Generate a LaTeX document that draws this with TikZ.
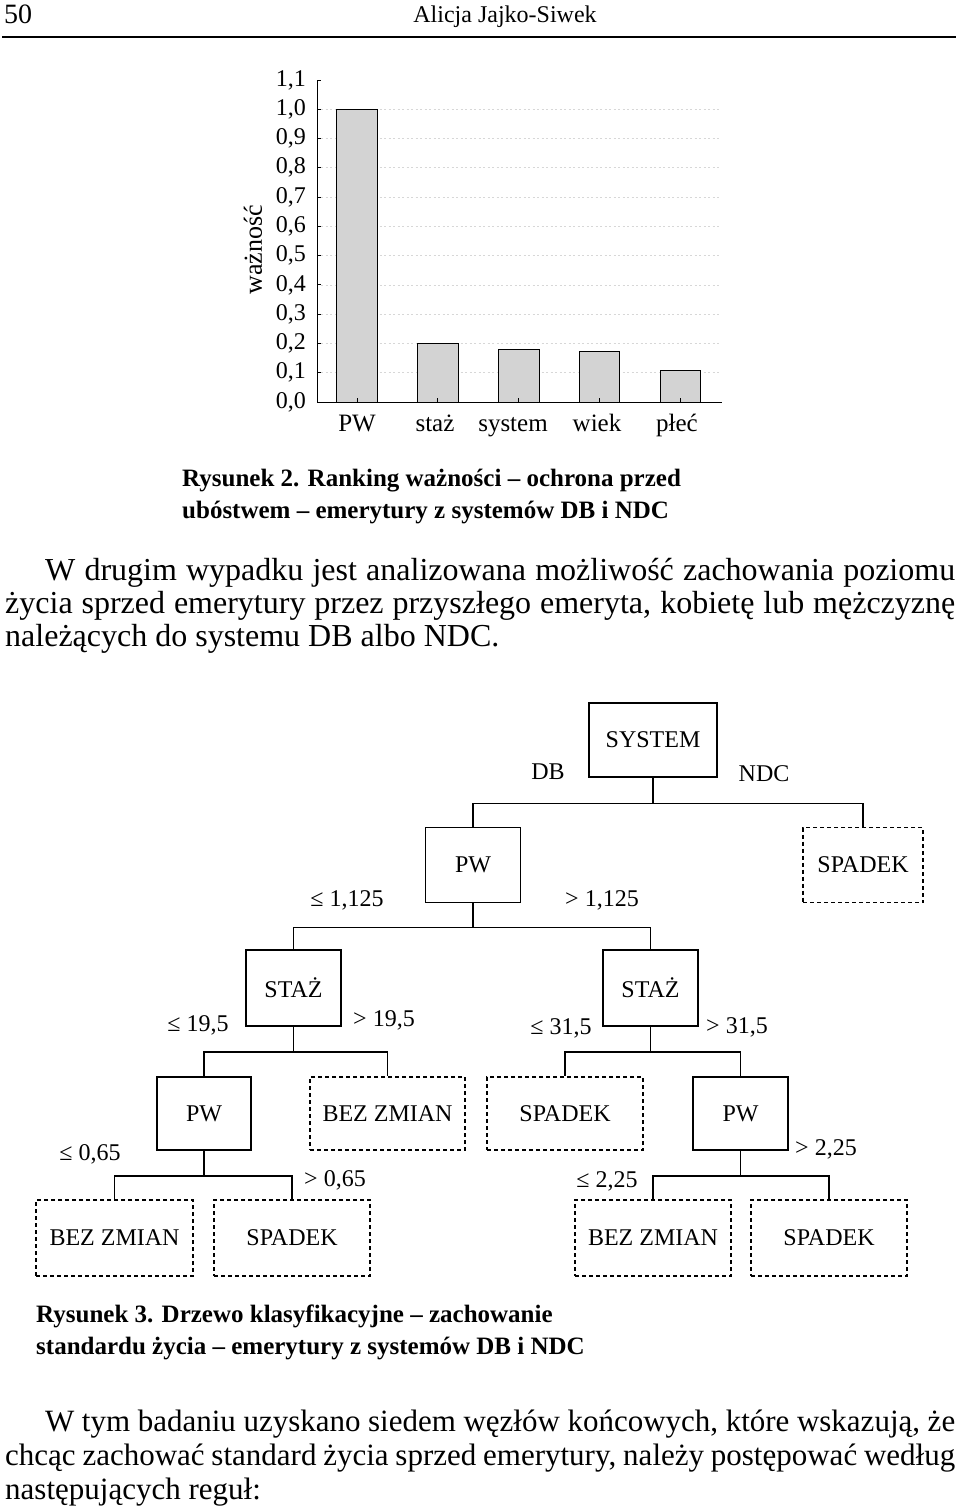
\documentclass[tikz,border=0pt]{standalone}
\usepackage{fontspec}
\setmainfont{Liberation Serif}
\definecolor{barfill}{RGB}{211,211,211}
\definecolor{gridgrey}{RGB}{215,215,215}
\begin{document}
\begin{tikzpicture}[x=1pt,y=-1pt,
  solidbox/.style={draw, line width=1.6pt, inner sep=0pt, font=\fontsize{24}{24}\selectfont},
  leafbox/.style={draw, line width=1.4pt, dash pattern=on 4pt off 3pt, inner sep=0pt, font=\fontsize{24}{24}\selectfont},
  conn/.style={line width=1.6pt},
  cond/.style={inner sep=0pt, font=\fontsize{24}{24}\selectfont},
  ticktxt/.style={inner sep=0pt, font=\fontsize{24}{24}\selectfont},
  charttxt/.style={inner sep=0pt, font=\fontsize{25}{25}\selectfont},
  bar/.style={draw, fill=barfill, line width=1pt},
  gridln/.style={draw=gridgrey, line width=0.7pt, dash pattern=on 2pt off 2.5pt},
  paraA/.style={inner sep=0pt, anchor=base west, font=\fontsize{32}{33}\selectfont},
  paraB/.style={inner sep=0pt, anchor=base west, font=\fontsize{31}{33}\selectfont},
  capt/.style={inner sep=0pt, anchor=base west, font=\fontsize{25}{25}\selectfont\bfseries},
  head/.style={inner sep=0pt, anchor=base, font=\fontsize{24}{24}\selectfont}
]
\useasboundingbox (0,0) rectangle (960,1512);

% header
\node[head, anchor=base west, font=\fontsize{28}{28}\selectfont] (pg) at (4,24) {50};
\node[head] (author) at (505,23) {Alicja Jajko-Siwek};
\draw[line width=2pt] (2,37) -- (956,37);

% chart
\foreach \v in {1,...,10} \draw[gridln] (321,{402-\v*29.27}) -- (720,{402-\v*29.27});
\draw[bar] (336.7,402) rectangle (377,109.3);
\draw[bar] (417.3,402) rectangle (458,343.5);
\draw[bar] (498.3,402) rectangle (539,349.6);
\draw[bar] (579.3,402) rectangle (619.7,351.4);
\draw[bar] (660.3,402) rectangle (700.7,370.4);
\draw[line width=1pt] (317,80) -- (317,402) -- (722,402);
\foreach \v in {0,...,11} \draw[line width=1pt] (317,{402-\v*29.27}) -- ++(4,0);
\foreach \xx in {357,437.7,518.7,599.5,680.5} \draw[line width=0.8pt] (\xx,402) -- ++(0,-4);
\foreach \v in {0,...,9} \node[ticktxt, anchor=east] (yl\v) at (306,{402-\v*29.27}) {0,\v};
\node[ticktxt, anchor=east] (yl10) at (306,{402-10*29.27}) {1,0};
\node[ticktxt, anchor=east] (yl11) at (306,{402-11*29.27}) {1,1};
\node[charttxt, rotate=90, font=\fontsize{26}{26}\selectfont] (ylab) at (253,250) {ważność};
\node[charttxt, anchor=base] (xl1) at (357,431) {PW};
\node[charttxt, anchor=base] (xl2) at (435,431) {staż};
\node[charttxt, anchor=base] (xl3) at (513,431) {system};
\node[charttxt, anchor=base] (xl4) at (597,431) {wiek};
\node[charttxt, anchor=base] (xl5) at (677,431) {płeć};

% caption 2
\node[capt] (c2a) at (182,486) {Rysunek 2. Ranking ważności – ochrona przed};
\node[capt] (c2b) at (182,518) {ubóstwem – emerytury z systemów DB i NDC};

% paragraph 1
\node[paraA] (p1a) at (45,580) {\makebox[910pt][s]{W drugim wypadku jest analizowana możliwość zachowania poziomu}};
\node[paraA] (p1b) at (5,613) {\makebox[950pt][s]{życia sprzed emerytury przez przyszłego emeryta, kobietę lub mężczyznę}};
\node[paraA] (p1c) at (5,646) {należących do systemu DB albo NDC.};

% tree
\node[solidbox, minimum width=128pt, minimum height=74pt] (sys) at (653,740) {SYSTEM};
\node[solidbox, minimum width=95pt, minimum height=75pt] (pw1) at (473,865) {PW};
\node[leafbox, minimum width=120pt, minimum height=75pt] (sp1) at (863,865) {SPADEK};
\node[solidbox, minimum width=95pt, minimum height=76pt] (stl) at (293.5,988) {STAŻ};
\node[solidbox, minimum width=95pt, minimum height=76pt] (str) at (650.5,988) {STAŻ};
\node[solidbox, minimum width=94pt, minimum height=73pt] (pwl) at (204,1113.5) {PW};
\node[leafbox, minimum width=155pt, minimum height=73pt] (bz1) at (387.5,1113.5) {BEZ ZMIAN};
\node[leafbox, minimum width=156pt, minimum height=73pt] (sp2) at (565,1113.5) {SPADEK};
\node[solidbox, minimum width=95pt, minimum height=73pt] (pwr) at (740.5,1113.5) {PW};
\node[leafbox, minimum width=157pt, minimum height=76pt] (bz2) at (114.5,1238) {BEZ ZMIAN};
\node[leafbox, minimum width=156pt, minimum height=76pt] (sp3) at (292,1238) {SPADEK};
\node[leafbox, minimum width=156pt, minimum height=76pt] (bz3) at (653,1238) {BEZ ZMIAN};
\node[leafbox, minimum width=156pt, minimum height=76pt] (sp4) at (829,1238) {SPADEK};

\draw[conn] (sys.south) -- ++(0,25.5) coordinate (j1);
\draw[conn] (j1) -| (pw1.north);
\draw[conn] (j1) -| (sp1.north);
\draw[conn] (pw1.south) -- ++(0,24) coordinate (j2);
\draw[conn] (j2) -| (stl.north);
\draw[conn] (j2) -| (str.north);
\draw[conn] (stl.south) -- ++(0,25) coordinate (j3);
\draw[conn] (j3) -| (pwl.north);
\draw[conn] (j3) -| (bz1.north);
\draw[conn] (str.south) -- ++(0,25) coordinate (j4);
\draw[conn] (j4) -| (sp2.north);
\draw[conn] (j4) -| (pwr.north);
\draw[conn] (pwl.south) -- ++(0,25) coordinate (j5);
\draw[conn] (j5) -| (bz2.north);
\draw[conn] (j5) -| (sp3.north);
\draw[conn] (pwr.south) -- ++(0,25) coordinate (j6);
\draw[conn] (j6) -| (bz3.north);
\draw[conn] (j6) -| (sp4.north);

\node[cond] (lDB) at (548,772) {DB};
\node[cond] (lNDC) at (764,774) {NDC};
\node[cond] (l1) at (347,900) {≤ 1,125};
\node[cond] (l2) at (602,900) {> 1,125};
\node[cond] (l3) at (198,1025) {≤ 19,5};
\node[cond] (l4) at (384,1020) {> 19,5};
\node[cond] (l5) at (561,1028) {≤ 31,5};
\node[cond] (l6) at (737,1027) {> 31,5};
\node[cond] (l7) at (90,1154) {≤ 0,65};
\node[cond] (l8) at (335,1180) {> 0,65};
\node[cond] (l9) at (607,1181) {≤ 2,25};
\node[cond] (l10) at (826,1149) {> 2,25};

% caption 3
\node[capt] (c3a) at (36,1322) {Rysunek 3. Drzewo klasyfikacyjne – zachowanie};
\node[capt] (c3b) at (36,1354) {standardu życia – emerytury z systemów DB i NDC};

% paragraph 2
\node[paraB] (p2a) at (45,1431) {\makebox[910pt][s]{W tym badaniu uzyskano siedem węzłów końcowych, które wskazują, że}};
\node[paraB] (p2b) at (5,1465) {\makebox[950pt][s]{chcąc zachować standard życia sprzed emerytury, należy postępować według}};
\node[paraB] (p2c) at (5,1499) {następujących reguł:};
\end{tikzpicture}
\end{document}
